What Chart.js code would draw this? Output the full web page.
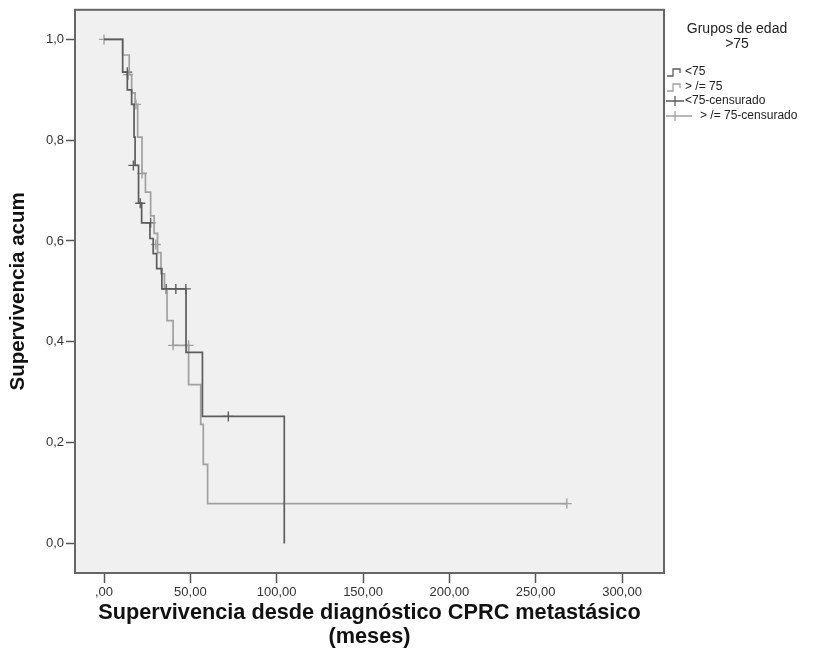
<!DOCTYPE html>
<html>
<head>
<meta charset="utf-8">
<script src="https://cdn.jsdelivr.net/npm/chart.js@4.4.1/dist/chart.umd.min.js"></script>
<style>
  html, body { margin: 0; padding: 0; background: #fff; }
  #wrap { width: 827px; height: 663px; }
</style>
</head>
<body>
<div id="wrap"><canvas id="kmChart"></canvas></div>
<script>
// Kaplan-Meier steps (months, cumulative survival)
const youngTimes = [0, 10.8, 13.5, 16, 17.4, 18, 20, 21.8, 26.6, 28.5, 30.5, 33.5, 47.5, 57, 104.4];
const youngSurv  = [1.0, 0.935, 0.9, 0.871, 0.806, 0.75, 0.675, 0.636, 0.605, 0.575, 0.545, 0.505, 0.379, 0.252, 0.0];
const youngCensTimes = [13.5, 17, 21, 27, 36, 41.6, 47.4, 72];
const youngCensSurv  = [0.935, 0.75, 0.675, 0.636, 0.505, 0.505, 0.505, 0.252];

const oldTimes = [0, 10.8, 14.6, 16, 18, 19.5, 22, 24, 27, 29, 31, 33, 35, 36.5, 40, 49, 56, 57.5, 60, 268];
const oldSurv  = [1.0, 0.969, 0.93, 0.894, 0.871, 0.806, 0.734, 0.697, 0.65, 0.615, 0.577, 0.535, 0.505, 0.442, 0.393, 0.315, 0.236, 0.157, 0.079, 0.079];
const oldCensTimes = [0, 14, 18.5, 22, 30, 40, 49, 268];
const oldCensSurv  = [1.0, 0.93, 0.871, 0.734, 0.593, 0.393, 0.393, 0.079];

const xTicks = [0, 50, 100, 150, 200, 250, 300];
const yTicks = [0, 0.2, 0.4, 0.6, 0.8, 1.0];
const legendTitle = ['Grupos de edad', '>75'];
const legendLabels = ['<75', '> /= 75', '<75-censurado', '> /= 75-censurado'];

const DARK = '#5c5c5c';
const LIGHT = '#a0a0a0';
const FONT = '"Liberation Sans", Arial, sans-serif';

function pts(xs, ys) {
  return xs.map((x, i) => ({x: x, y: ys[i]}));
}

// grey plot background + frame
const frame = {
  id: 'frame',
  beforeDatasetsDraw(chart) {
    const {ctx, chartArea: a} = chart;
    ctx.save();
    ctx.fillStyle = '#f0f0f0';
    ctx.fillRect(a.left, a.top, a.right - a.left, a.bottom - a.top);
    ctx.restore();
  },
  afterDatasetsDraw(chart) {
    const {ctx, chartArea: a} = chart;
    ctx.save();
    ctx.strokeStyle = '#666';
    ctx.lineWidth = 2;
    ctx.strokeRect(a.left, a.top, a.right - a.left, a.bottom - a.top);
    ctx.restore();
  }
};

// SPSS-like legend on the right
const sideLegend = {
  id: 'sideLegend',
  afterDraw(chart) {
    const ctx = chart.ctx;
    ctx.save();
    ctx.fillStyle = '#222';
    ctx.font = '14px ' + FONT;
    ctx.textAlign = 'center';
    ctx.textBaseline = 'middle';
    legendTitle.forEach((t, i) => ctx.fillText(t, 737, 29 + i * 15));

    const rows = [72, 87, 101, 116];
    const cols = [DARK, LIGHT, DARK, LIGHT];
    const textX = [685, 685, 685, 700];
    ctx.font = '12px ' + FONT;
    ctx.textAlign = 'left';
    legendLabels.forEach((t, i) => {
      const y = rows[i];
      ctx.strokeStyle = cols[i];
      ctx.lineWidth = 1.3;
      ctx.beginPath();
      if (i < 2) {
        ctx.moveTo(667, y + 4);
        ctx.lineTo(673, y + 4);
        ctx.lineTo(673, y - 3);
        ctx.lineTo(680, y - 3);
        ctx.lineTo(680, y + 1);
      } else {
        ctx.moveTo(666, y);
        ctx.lineTo(i === 3 ? 692 : 684, y);
        ctx.moveTo(675, y - 5);
        ctx.lineTo(675, y + 5);
      }
      ctx.stroke();
      ctx.fillStyle = '#222';
      ctx.fillText(t, textX[i], y);
    });
    ctx.restore();
  }
};

const data = {
  datasets: [
    {
      label: legendLabels[0],
      data: pts(youngTimes, youngSurv),
      stepped: true,
      borderColor: DARK,
      borderWidth: 1.7,
      pointRadius: 0,
      fill: false
    },
    {
      label: legendLabels[1],
      data: pts(oldTimes, oldSurv),
      stepped: true,
      borderColor: LIGHT,
      borderWidth: 1.7,
      pointRadius: 0,
      fill: false
    },
    {
      label: legendLabels[2],
      data: pts(youngCensTimes, youngCensSurv),
      showLine: false,
      pointStyle: 'cross',
      pointRadius: 5,
      pointBorderWidth: 1.4,
      borderColor: DARK
    },
    {
      label: legendLabels[3],
      data: pts(oldCensTimes, oldCensSurv),
      showLine: false,
      pointStyle: 'cross',
      pointRadius: 5,
      pointBorderWidth: 1.4,
      borderColor: LIGHT
    }
  ]
};

const config = {
  type: 'line',
  data: data,
  plugins: [frame, sideLegend],
  options: {
    responsive: true,
    maintainAspectRatio: false,
    animation: false,
    events: [],
    layout: { padding: { top: 4, right: 163, left: 0, bottom: 0 } },
    plugins: {
      legend: { display: false },
      tooltip: { enabled: false }
    },
    scales: {
      x: {
        type: 'linear',
        min: -16.8,
        max: 324.3,
        afterFit: s => { s.height = 90; },
        afterBuildTicks: s => { s.ticks = xTicks.map(v => ({value: v})); },
        grid: { drawOnChartArea: false, drawTicks: true, tickLength: 10, tickColor: '#555', tickWidth: 1.5 },
        border: { display: false },
        ticks: {
          padding: 2,
          color: '#333',
          font: { family: FONT, size: 13 },
          maxRotation: 0,
          callback: v => v === 0 ? ',00' : v.toFixed(2).replace('.', ',')
        },
        title: {
          display: true,
          text: ['Supervivencia desde diagnóstico CPRC metastásico', '(meses)'],
          color: '#111',
          font: { family: FONT, size: 21.7, weight: 'bold', lineHeight: 1.11 },
          padding: { top: 0, bottom: 14 }
        }
      },
      y: {
        type: 'linear',
        min: -0.0587,
        max: 1.0587,
        afterFit: s => { s.width = 75; },
        afterBuildTicks: s => { s.ticks = yTicks.map(v => ({value: v})); },
        grid: { drawOnChartArea: false, drawTicks: true, tickLength: 9, tickColor: '#555', tickWidth: 1.5 },
        border: { display: false },
        ticks: {
          padding: 2,
          color: '#333',
          font: { family: FONT, size: 13 },
          callback: v => v.toFixed(1).replace('.', ',')
        },
        title: {
          display: true,
          text: 'Supervivencia acum',
          color: '#111',
          font: { family: FONT, size: 20.5, weight: 'bold' },
          padding: { top: 6, bottom: 0 }
        }
      }
    }
  }
};

const ctx = document.getElementById('kmChart').getContext('2d');
const kmChart = new Chart(ctx, config);
</script>
</body>
</html>
